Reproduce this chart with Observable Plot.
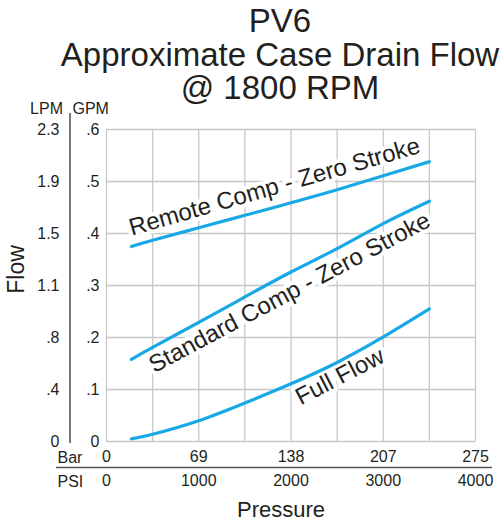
<!DOCTYPE html>
<html>
<head>
<meta charset="utf-8">
<script src="https://cdn.jsdelivr.net/npm/d3@7"></script>
<script src="https://cdn.jsdelivr.net/npm/@observablehq/plot@0.6"></script>
<style>
  html, body { margin: 0; padding: 0; background: #fff; }
  #wrap { position: relative; width: 503px; height: 521px; font-family: "Liberation Sans", Arial, sans-serif; color: #231f20; }
  #title { position: absolute; left: 0; top: 4px; width: 560px; text-align: center; font-size: 33px; line-height: 33.5px; z-index: 2; }
  #chart { position: absolute; left: 0; top: 0; }
</style>
</head>
<body>
<div id="wrap">
  <div id="title"><div>PV6</div><div>Approximate Case Drain Flow</div><div>@ 1800 RPM</div></div>
  <div id="chart"></div>
</div>
<script>
// ---- data ----
const psiTicks = [0, 1000, 2000, 3000, 4000];
const barLabels = ["0", "69", "138", "207", "275"];
const psiLabels = ["0", "1000", "2000", "3000", "4000"];
const psiGrid = [0, 500, 1000, 1500, 2000, 2500, 3000, 3500, 4000];
const gpmTicks = [0, 0.1, 0.2, 0.3, 0.4, 0.5, 0.6];
const gpmLabels = ["0", ".1", ".2", ".3", ".4", ".5", ".6"];
const lpmLabels = ["0", ".4", ".8", "1.1", "1.5", "1.9", "2.3"];

const pressure = [270, 500, 1000, 1500, 2000, 2500, 3000, 3500];
const remoteComp = [0.375, 0.387, 0.411, 0.435, 0.459, 0.484, 0.511, 0.538];
const standardComp = [0.158, 0.181, 0.229, 0.278, 0.326, 0.371, 0.419, 0.462];
const fullFlow = [0.005, 0.014, 0.040, 0.074, 0.111, 0.152, 0.201, 0.255];

const seriesNames = ["Remote Comp - Zero Stroke", "Standard Comp - Zero Stroke", "Full Flow"];
const labelPsi = [1821, 1984, 2530];
const labelGpm = [0.49, 0.2865, 0.125];
const labelAngle = [-16, -28, -27.5];

// ---- build table ----
const seriesValues = [remoteComp, standardComp, fullFlow];
const rows = seriesNames.flatMap((name, s) =>
  pressure.map((p, i) => ({series: name, psi: p, gpm: seriesValues[s][i]})));
const labels = seriesNames.map((name, i) => ({name, psi: labelPsi[i], gpm: labelGpm[i], angle: labelAngle[i]}));

const gpmMap = new Map(gpmTicks.map((t, i) => [t, gpmLabels[i]]));
const lpmMap = new Map(gpmTicks.map((t, i) => [t, lpmLabels[i]]));
const barMap = new Map(psiTicks.map((t, i) => [t, barLabels[i]]));
const psiMap = new Map(psiTicks.map((t, i) => [t, psiLabels[i]]));

const ink = "#231f20";
const gridColor = "#c8c8c8";
const lineColor = "#19a8e6";

const chart = Plot.plot({
  width: 503,
  height: 521,
  marginLeft: 106,
  marginRight: 28,
  marginTop: 129,
  marginBottom: 80,
  style: {fontFamily: "'Liberation Sans', Arial, sans-serif", color: ink, background: "transparent"},
  x: {domain: [0, 4000], axis: null},
  y: {domain: [0, 0.6], axis: null},
  marks: [
    Plot.ruleX(psiGrid, {stroke: gridColor, strokeWidth: 1.3}),
    Plot.ruleY(gpmTicks, {stroke: gridColor, strokeWidth: 1.3}),
    // divider lines
    Plot.ruleX([0], {dx: -36.5, insetTop: -16, insetBottom: -2, stroke: ink, strokeWidth: 1.2}),
    Plot.ruleY([0], {dy: 26, insetLeft: -50, insetRight: -17, stroke: "#555", strokeWidth: 1.5}),
    // series labels with halo
    Plot.text(labels, {x: "psi", y: "gpm", text: "name", rotate: "angle", fontSize: 24,
      fill: ink, stroke: "white", strokeWidth: 8, strokeLinejoin: "round"}),
    // curves
    Plot.line(rows, {x: "psi", y: "gpm", z: "series", stroke: lineColor, strokeWidth: 3.2, curve: "natural"}),
    // y axes
    Plot.axisY({ticks: gpmTicks, tickSize: 0, tickPadding: 7, tickFormat: d => gpmMap.get(d), fontSize: 16, label: null, fill: ink}),
    Plot.axisY({ticks: gpmTicks, tickSize: 0, tickPadding: 47, tickFormat: d => lpmMap.get(d), fontSize: 16, label: null, fill: ink}),
    Plot.text(["LPM"], {frameAnchor: "top-left", textAnchor: "end", lineAnchor: "bottom", dx: -43.5, dy: -16, fontSize: 16, fill: ink}),
    Plot.text(["GPM"], {frameAnchor: "top-left", textAnchor: "start", lineAnchor: "bottom", dx: -34, dy: -16, fontSize: 16, fill: ink}),
    Plot.text(["Flow"], {frameAnchor: "left", rotate: -90, textAnchor: "middle", lineAnchor: "bottom", dx: -83, dy: -16, fontSize: 23, fill: ink}),
    // x axes
    Plot.axisX({ticks: psiTicks, tickSize: 0, tickPadding: 9.6, tickFormat: d => barMap.get(d), fontSize: 16, label: null, fill: ink}),
    Plot.axisX({ticks: psiTicks, tickSize: 0, tickPadding: 33.6, tickFormat: d => psiMap.get(d), fontSize: 16, label: null, fill: ink}),
    Plot.text(["Bar"], {frameAnchor: "bottom-left", textAnchor: "start", lineAnchor: "bottom", dx: -49, dy: 21, fontSize: 16, fill: ink}),
    Plot.text(["PSI"], {frameAnchor: "bottom-left", textAnchor: "start", lineAnchor: "bottom", dx: -49, dy: 45, fontSize: 16, fill: ink}),
    Plot.text(["Pressure"], {frameAnchor: "bottom", textAnchor: "middle", lineAnchor: "bottom", dx: -10, dy: 75, fontSize: 22, fill: ink})
  ]
});
document.getElementById("chart").appendChild(chart);
</script>
</body>
</html>
